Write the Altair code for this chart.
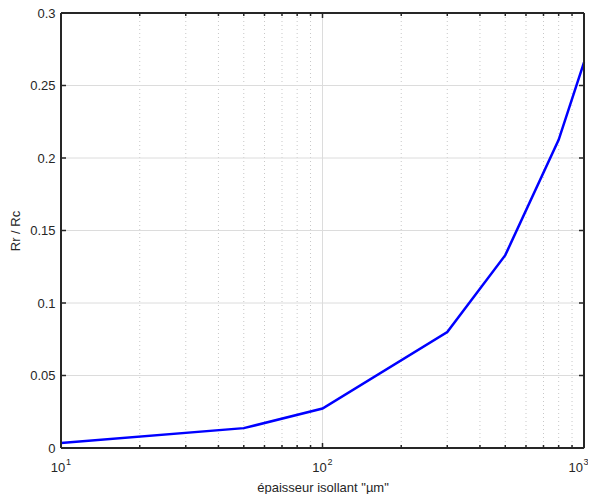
import altair as alt
import pandas as pd

thickness = [10, 50, 100, 300, 500, 800, 1000]
ratio = [0.0034, 0.0137, 0.0272, 0.0800, 0.1330, 0.2125, 0.2660]

x_major = [10, 100, 1000]
x_base = ["10", "10", "10"]
x_exp = ["1", "2", "3"]
x_minor = [20, 30, 40, 50, 60, 70, 80, 90, 200, 300, 400, 500, 600, 700, 800, 900]
y_ticks = [0, 0.05, 0.1, 0.15, 0.2, 0.25, 0.3]

W, H = 523, 435
FONT = "Liberation Sans"
TXT = "#262626"

df = pd.DataFrame({"t": thickness, "r": ratio})
dmaj = pd.DataFrame({"v": x_major, "b": x_base, "e": x_exp})
dmin = pd.DataFrame({"v": x_minor})
dy = pd.DataFrame({"v": y_ticks})

xs = alt.Scale(type="log", domain=[10, 1000], nice=False)
ys = alt.Scale(domain=[0, 0.3], nice=False, zero=False)

minor_grid = alt.Chart(dmin).mark_rule(color="#c8c8c8", strokeWidth=1, strokeDash=[1, 3]).encode(
    x=alt.X("v:Q", scale=xs), y=alt.value(0), y2=alt.value(H))

ygrid = alt.Chart(dy).mark_rule(color="#dcdcdc", strokeWidth=1).encode(
    y=alt.Y("v:Q", scale=ys), x=alt.value(0), x2=alt.value(W))
xgrid = alt.Chart(dmaj).mark_rule(color="#dcdcdc", strokeWidth=1).encode(
    x=alt.X("v:Q", scale=xs), y=alt.value(0), y2=alt.value(H))

line = alt.Chart(df).mark_line(color="#0000ff", strokeWidth=2.5).encode(
    x=alt.X("t:Q", scale=xs,
            axis=alt.Axis(values=x_major, labels=False, title='épaisseur isollant "µm"',
                          grid=False, ticks=False, domain=False,
                          titleFont=FONT, titleFontSize=13, titleFontWeight="normal",
                          titleColor=TXT, titlePadding=33)),
    y=alt.Y("r:Q", scale=ys,
            axis=alt.Axis(values=y_ticks, format="~g", title="Rr / Rc", grid=False, ticks=False,
                          domain=False, labelFont=FONT, labelFontSize=13, labelColor=TXT,
                          labelPadding=6, labelFlush=False, titleFont=FONT, titleFontSize=13,
                          titleFontWeight="normal", titleColor=TXT,
                          titleX=-46, titleY=H / 2, titleAngle=270, titleAlign="center",
                          titleBaseline="middle")))

inner = alt.Chart(dmaj).transform_filter("datum.v < 1000")
last = alt.Chart(dmaj).transform_filter("datum.v >= 1000")
base_txt = dict(font=FONT, fontSize=13, color=TXT, baseline="alphabetic")
exp_txt = dict(font=FONT, fontSize=9, color=TXT, baseline="alphabetic", align="left")
b1 = inner.mark_text(align="center", dx=-3, **base_txt).encode(
    x=alt.X("v:Q", scale=xs), y=alt.value(H + 24), text="b:N")
e1 = inner.mark_text(dx=5, **exp_txt).encode(
    x=alt.X("v:Q", scale=xs), y=alt.value(H + 17), text="e:N")
b2 = last.mark_text(align="right", dx=-1, **base_txt).encode(
    x=alt.X("v:Q", scale=xs), y=alt.value(H + 24), text="b:N")
e2 = last.mark_text(dx=-0.5, **exp_txt).encode(
    x=alt.X("v:Q", scale=xs), y=alt.value(H + 17), text="e:N")

tk = dict(color=TXT, strokeWidth=1.5)
bmaj = alt.Chart(dmaj).mark_rule(**tk).encode(x=alt.X("v:Q", scale=xs), y=alt.value(H), y2=alt.value(H - 5))
tmaj = alt.Chart(dmaj).mark_rule(**tk).encode(x=alt.X("v:Q", scale=xs), y=alt.value(0), y2=alt.value(5))
bmin = alt.Chart(dmin).mark_rule(**tk).encode(x=alt.X("v:Q", scale=xs), y=alt.value(H), y2=alt.value(H - 3))
tmin = alt.Chart(dmin).mark_rule(**tk).encode(x=alt.X("v:Q", scale=xs), y=alt.value(0), y2=alt.value(3))
lt = alt.Chart(dy).mark_rule(**tk).encode(y=alt.Y("v:Q", scale=ys), x=alt.value(0), x2=alt.value(5))
rt = alt.Chart(dy).mark_rule(**tk).encode(y=alt.Y("v:Q", scale=ys), x=alt.value(W), x2=alt.value(W - 5))

fr = dict(color=TXT, strokeWidth=2)
ftop = alt.Chart(dmaj).mark_rule(**fr).encode(x=alt.value(0), x2=alt.value(W), y=alt.value(0))
fbot = alt.Chart(dmaj).mark_rule(**fr).encode(x=alt.value(0), x2=alt.value(W), y=alt.value(H))
fl = alt.Chart(dmaj).mark_rule(**fr).encode(y=alt.value(0), y2=alt.value(H), x=alt.value(0))
frr = alt.Chart(dmaj).mark_rule(**fr).encode(y=alt.value(0), y2=alt.value(H), x=alt.value(W))

chart = alt.layer(minor_grid, ygrid, xgrid, line, b1, e1, b2, e2, bmaj, tmaj, bmin, tmin, lt, rt,
                  ftop, fbot, fl, frr).properties(
    width=W, height=H,
    autosize=alt.AutoSizeParams(type="none"),
    padding={"left": 53, "top": 5, "right": 4, "bottom": 46},
).configure_view(stroke=None).configure(background="white")

chart.save("out.html", embed_options={"renderer": "svg", "actions": False})
